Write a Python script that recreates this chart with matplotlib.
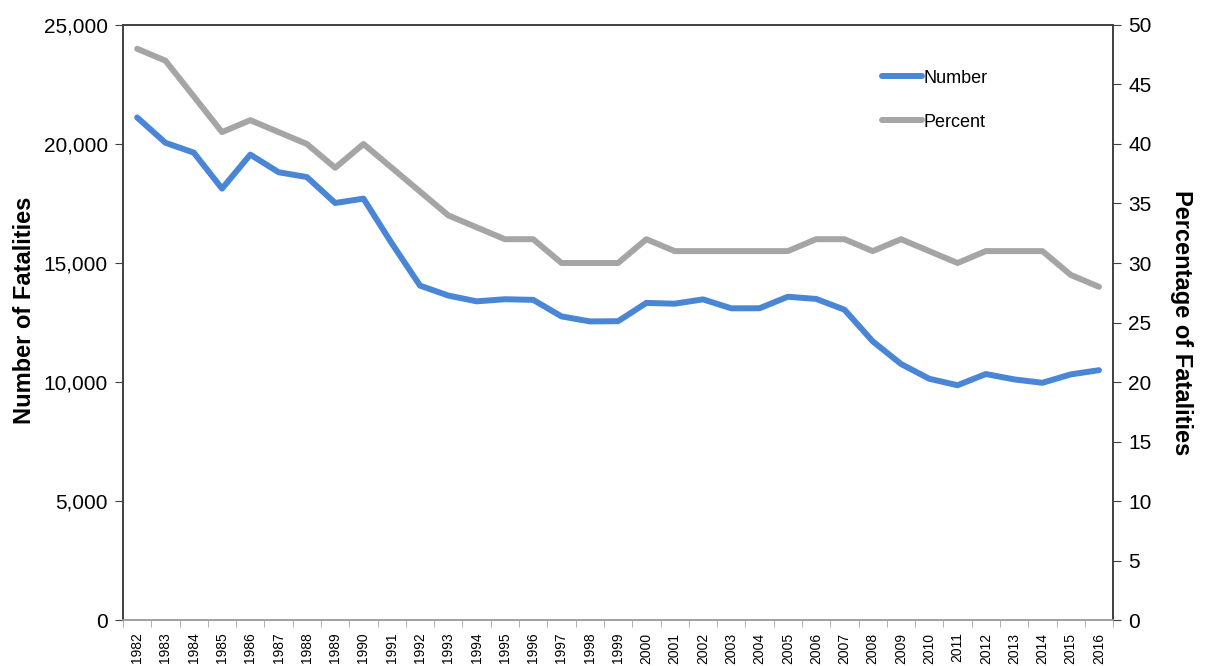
import matplotlib.pyplot as plt
from matplotlib.ticker import FuncFormatter, MultipleLocator

plt.rcParams['font.family'] = ['Liberation Sans', 'DejaVu Sans']

years = list(range(1982, 2017))
number = [21113, 20051, 19638, 18125, 19554, 18813, 18611, 17521, 17705, 15827,
          14049, 13632, 13390, 13478, 13451, 12757, 12546, 12555, 13324, 13290,
          13472, 13096, 13099, 13582, 13491, 13041, 11711, 10759, 10136, 9865,
          10336, 10110, 9967, 10320, 10497]
percent = [48, 47, 44, 41, 42, 41, 40, 38, 40, 38,
           36, 34, 33, 32, 32, 30, 30, 30, 32, 31,
           31, 31, 31, 31, 32, 32, 31, 32, 31, 30,
           31, 31, 31, 29, 28]

blue = '#4a86d6'
gray = '#a5a5a5'

fig = plt.figure(figsize=(12.06, 6.66), dpi=100)
ax = fig.add_axes([0.102, 0.069, 0.821, 0.8935])
ax2 = ax.twinx()

l1, = ax.plot(years, number, color=blue, lw=4.3, label='Number', solid_capstyle='round')
l2, = ax2.plot(years, percent, color=gray, lw=4.3, label='Percent', solid_capstyle='round')
ax.set_zorder(ax2.get_zorder() + 1)
ax.patch.set_visible(False)

ax.set_xlim(1981.5, 2016.5)
ax.set_ylim(0, 25000)
ax2.set_ylim(0, 50)
ax.yaxis.set_major_locator(MultipleLocator(5000))
ax.yaxis.set_major_formatter(FuncFormatter(lambda v, p: f'{int(v):,}'))
ax2.yaxis.set_major_locator(MultipleLocator(5))

ax.set_xticks(years)
ax.set_xticklabels([str(y) for y in years], rotation=90, fontsize=10)
ax.set_xticks([y + 0.5 for y in [1981] + years], minor=True)
ax.tick_params(axis='x', which='major', length=0, pad=9)
ax.tick_params(axis='x', which='minor', length=5, color='#a0a0a0')
ax.tick_params(axis='y', labelsize=15, length=6, color='#404040', pad=5)
ax2.tick_params(axis='y', labelsize=15, length=6, color='#404040', pad=5)

for a in (ax, ax2):
    for s in a.spines.values():
        s.set_color('#404040')
        s.set_linewidth(1.2)
    a.spines['bottom'].set_color('#a0a0a0')

ax.set_ylabel('Number of Fatalities', fontsize=17, fontweight='bold')
ax.yaxis.set_label_coords(-0.088, 0.52)
ax2.set_ylabel('Percentage of Fatalities', fontsize=17, fontweight='bold',
               rotation=270, labelpad=30)

fig.legend(handles=[l1, l2], loc='upper left', bbox_to_anchor=(0.718, 0.92),
           frameon=False, fontsize=13, handlelength=2.2, handletextpad=0.1,
           labelspacing=1.5)

fig.savefig('out.png', dpi=100)
